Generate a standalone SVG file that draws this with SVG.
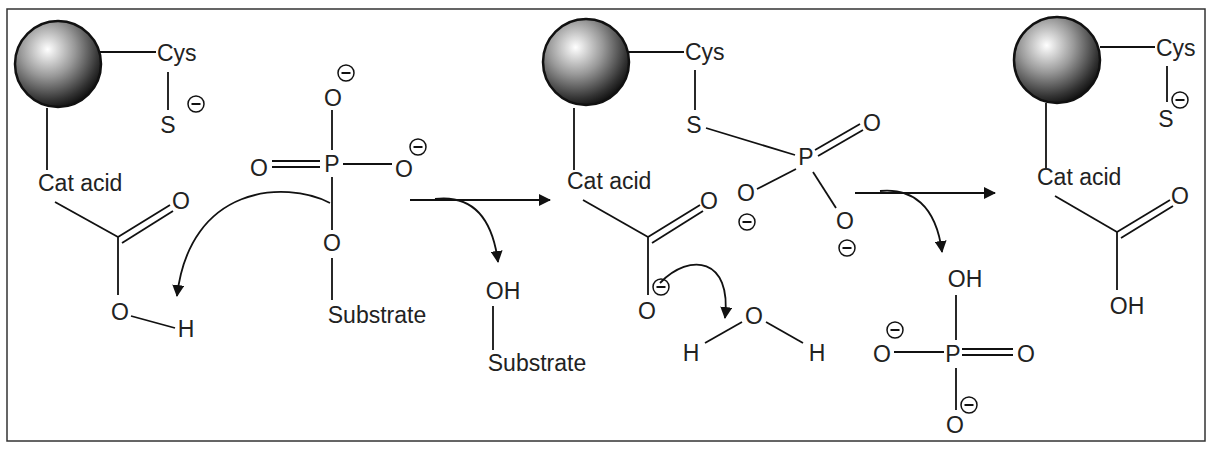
<svg xmlns="http://www.w3.org/2000/svg" width="1212" height="451" viewBox="0 0 1212 451">
<style>
text{font-family:"Liberation Sans",Arial,sans-serif;font-size:23px;fill:#222}
.c{text-anchor:middle}
line,path{stroke:#111;stroke-width:1.8;fill:none}
.m{fill:none;stroke:#111;stroke-width:1.5}
.sp{stroke:#111;stroke-width:2.5}
</style>
<defs>
<radialGradient id="g" cx="0.38" cy="0.33" r="0.7">
<stop offset="0" stop-color="#fff"/><stop offset="0.45" stop-color="#999"/><stop offset="0.85" stop-color="#333"/><stop offset="1" stop-color="#111"/>
</radialGradient>
<marker id="a" markerWidth="12" markerHeight="12" refX="11" refY="6" orient="auto" markerUnits="userSpaceOnUse">
<path d="M0,0 L12,6 L0,12 Z" style="fill:#111;stroke:none"/>
</marker>
<g id="minus"><circle r="8" class="m"/><line x1="-4.5" y1="0" x2="4.5" y2="0" style="stroke-width:2"/></g>
</defs>
<rect x="7" y="9" width="1198" height="432" fill="#fff" stroke="#333" stroke-width="1.5"/>

<g id="panel1">
<circle cx="58" cy="64" r="43" fill="url(#g)" class="sp"/>
<line x1="100" y1="52" x2="156" y2="52"/>
<text x="157" y="61">Cys</text>
<line x1="168" y1="72" x2="168" y2="110"/>
<text x="168" y="133" class="c">S</text>
<use href="#minus" x="196" y="104"/>
<line x1="47" y1="108" x2="47" y2="170"/>
<text x="38" y="191">Cat acid</text>
<line x1="55" y1="202" x2="118" y2="237"/>
<line x1="118" y1="237" x2="170" y2="205"/>
<line x1="122" y1="243" x2="173" y2="211"/>
<text x="181" y="209" class="c">O</text>
<line x1="118" y1="237" x2="118" y2="295"/>
<text x="120" y="320" class="c">O</text>
<line x1="131" y1="316" x2="175" y2="328"/>
<text x="186" y="337" class="c">H</text>
</g>

<g id="phosphate1">
<text x="333" y="106" class="c">O</text>
<use href="#minus" x="346" y="73"/>
<line x1="332" y1="110" x2="332" y2="150"/>
<text x="332" y="172" class="c">P</text>
<text x="259" y="176" class="c">O</text>
<line x1="272" y1="161" x2="320" y2="161"/>
<line x1="272" y1="167" x2="320" y2="167"/>
<line x1="343" y1="164" x2="392" y2="164"/>
<text x="404" y="177" class="c">O</text>
<use href="#minus" x="418" y="147"/>
<line x1="332" y1="177" x2="332" y2="230"/>
<text x="332" y="251" class="c">O</text>
<line x1="332" y1="258" x2="332" y2="300"/>
<text x="377" y="323" class="c">Substrate</text>
</g>

<g id="panel2">
<circle cx="586" cy="62" r="43" fill="url(#g)" class="sp"/>
<line x1="628" y1="52" x2="684" y2="52"/>
<text x="685" y="60">Cys</text>
<line x1="695" y1="70" x2="695" y2="110"/>
<text x="694" y="133" class="c">S</text>
<line x1="706" y1="128" x2="795" y2="155"/>
<text x="806" y="165" class="c">P</text>
<line x1="815" y1="150" x2="860" y2="124"/>
<line x1="818" y1="156" x2="863" y2="130"/>
<text x="872" y="131" class="c">O</text>
<line x1="796" y1="169" x2="757" y2="189"/>
<text x="746" y="201" class="c">O</text>
<use href="#minus" x="747" y="222"/>
<line x1="813" y1="172" x2="836" y2="208"/>
<text x="845" y="229" class="c">O</text>
<use href="#minus" x="847" y="248"/>
<line x1="574" y1="108" x2="574" y2="170"/>
<text x="567" y="189">Cat acid</text>
<line x1="583" y1="200" x2="648" y2="237"/>
<line x1="648" y1="237" x2="700" y2="205"/>
<line x1="652" y1="243" x2="703" y2="211"/>
<text x="709" y="209" class="c">O</text>
<line x1="648" y1="237" x2="648" y2="295"/>
<text x="647" y="319" class="c">O</text>
<use href="#minus" x="661" y="287"/>
<text x="754" y="324" class="c">O</text>
<text x="691" y="361" class="c">H</text>
<text x="817" y="361" class="c">H</text>
<line x1="705" y1="343" x2="742" y2="322"/>
<line x1="766" y1="322" x2="803" y2="343"/>
</g>

<g id="byproduct1">
<text x="503" y="299" class="c">OH</text>
<line x1="493" y1="306" x2="493" y2="350"/>
<text x="537" y="371" class="c">Substrate</text>
</g>

<g id="phosphate2">
<text x="965" y="287" class="c">OH</text>
<line x1="956" y1="295" x2="956" y2="340"/>
<text x="953" y="362" class="c">P</text>
<text x="882" y="362" class="c">O</text>
<use href="#minus" x="895" y="330"/>
<line x1="894" y1="352" x2="944" y2="352"/>
<line x1="962" y1="349" x2="1013" y2="349"/>
<line x1="962" y1="355" x2="1013" y2="355"/>
<text x="1026" y="362" class="c">O</text>
<line x1="956" y1="368" x2="956" y2="410"/>
<text x="955" y="433" class="c">O</text>
<use href="#minus" x="969" y="405"/>
</g>

<g id="panel3">
<circle cx="1057" cy="60" r="43" fill="url(#g)" class="sp"/>
<line x1="1100" y1="47" x2="1155" y2="47"/>
<text x="1156" y="56">Cys</text>
<line x1="1167" y1="66" x2="1167" y2="102"/>
<text x="1166" y="127" class="c">S</text>
<use href="#minus" x="1180" y="100"/>
<line x1="1046" y1="103" x2="1046" y2="168"/>
<text x="1037" y="185">Cat acid</text>
<line x1="1055" y1="196" x2="1117" y2="232"/>
<line x1="1117" y1="232" x2="1170" y2="200"/>
<line x1="1121" y1="238" x2="1173" y2="206"/>
<text x="1180" y="204" class="c">O</text>
<line x1="1117" y1="232" x2="1117" y2="290"/>
<text x="1127" y="314" class="c">OH</text>
</g>

<g id="connectors">
<path d="M330,203 C285,180 190,185 177,296" marker-end="url(#a)"/>
<line x1="410" y1="200" x2="550" y2="200" marker-end="url(#a)"/>
<path d="M435,199 C470,195 492,215 498,262" marker-end="url(#a)"/>
<path d="M660,283 C690,252 732,258 725,318" marker-end="url(#a)"/>
<line x1="855" y1="193" x2="995" y2="193" marker-end="url(#a)"/>
<path d="M880,191 C912,188 936,205 942,252" marker-end="url(#a)"/>
</g>
</svg>
